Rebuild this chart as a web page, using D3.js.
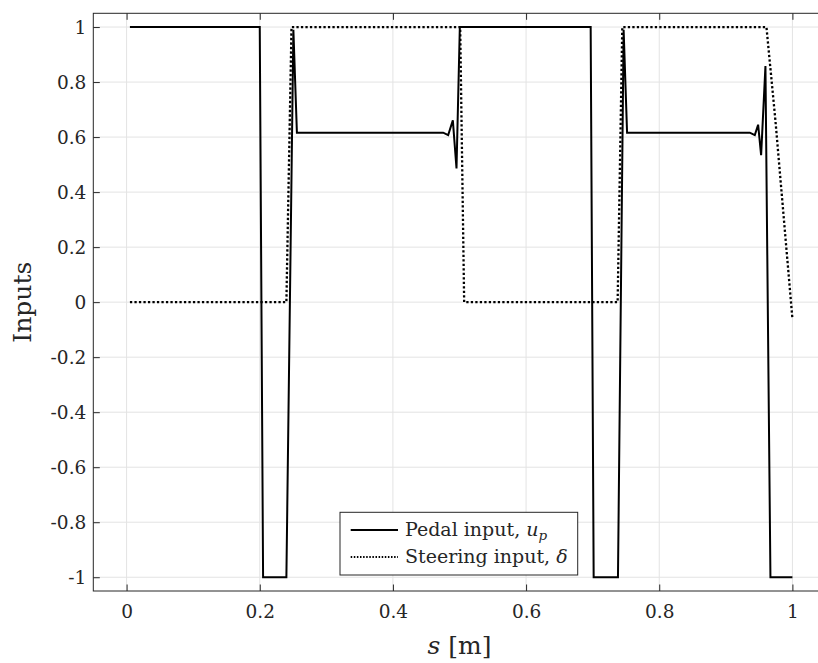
<!DOCTYPE html>
<html>
<head>
<meta charset="utf-8">
<script src="https://cdn.jsdelivr.net/npm/d3@7"></script>
<style>
  html, body { margin: 0; padding: 0; background: #fff; overflow: hidden; }
  svg { display: block; }
  text { font-family: "DejaVu Serif", "Liberation Serif", serif; fill: #262626; }
</style>
</head>
<body>
<svg id="chart" width="818" height="663"></svg>
<script>
// ---- data ----
const pedalS = [0.005, 0.200, 0.205, 0.240, 0.2505, 0.2558, 0.4755, 0.483, 0.490, 0.4955, 0.5005,
                0.697, 0.7015, 0.738, 0.7465, 0.7517, 0.936, 0.9435, 0.9485, 0.953, 0.9595, 0.967, 1.000];
const pedalU = [1, 1, -1, -1, 0.99, 0.616, 0.616, 0.607, 0.661, 0.486, 1,
                1, -1, -1, 0.99, 0.616, 0.616, 0.607, 0.645, 0.534, 0.858, -1, -1];

const steerS = [0.005, 0.240, 0.2477, 0.501, 0.507, 0.7375, 0.7445, 0.961, 0.9745, 1.000];
const steerD = [0, 0, 1, 1, 0, 0, 1, 1, 0.66, -0.06];

const xTicks = [0, 0.2, 0.4, 0.6, 0.8, 1];
const xTickLabels = ["0", "0.2", "0.4", "0.6", "0.8", "1"];
const yTicks = [-1, -0.8, -0.6, -0.4, -0.2, 0, 0.2, 0.4, 0.6, 0.8, 1];
const yTickLabels = ["-1", "-0.8", "-0.6", "-0.4", "-0.2", "0", "0.2", "0.4", "0.6", "0.8", "1"];

const xLabel = "s";
const yLabel = "Inputs";

// ---- layout ----
const svg = d3.select("#chart");
const L = 93.3, R = 825.7, T = 13.3, B = 591;
const x = d3.scaleLinear().domain([-0.05, 1.05]).range([L, R]);
const y = d3.scaleLinear().domain([-1.05, 1.05]).range([B, T]);
const axisCol = "#262626";
const gridCol = "#e3e3e3";

// grid
const grid = svg.append("g");
grid.selectAll(".gx").data(xTicks).enter().append("line")
  .attr("x1", d => x(d)).attr("x2", d => x(d)).attr("y1", T).attr("y2", B)
  .attr("stroke", gridCol).attr("stroke-width", 1);
grid.selectAll(".gy").data(yTicks).enter().append("line")
  .attr("x1", L).attr("x2", R).attr("y1", d => y(d)).attr("y2", d => y(d))
  .attr("stroke", gridCol).attr("stroke-width", 1);

// axes (inward ticks on all sides)
const tl = 6.5;
const axB = d3.axisBottom(x).tickValues(xTicks).tickSize(-tl).tickFormat((d, i) => xTickLabels[i]);
const axT = d3.axisTop(x).tickValues(xTicks).tickSize(-tl).tickFormat("");
const axL = d3.axisLeft(y).tickValues(yTicks).tickSize(-tl).tickFormat((d, i) => yTickLabels[i]);
const axR = d3.axisRight(y).tickValues(yTicks).tickSize(-tl).tickFormat("");

function styleAxis(g) {
  g.selectAll("path").attr("stroke", axisCol).attr("stroke-width", 1);
  g.selectAll("line").attr("stroke", axisCol).attr("stroke-width", 1);
  g.selectAll("text").attr("font-family", "DejaVu Serif").attr("font-size", 18.5).attr("fill", axisCol);
}
const gB = svg.append("g").attr("transform", `translate(0,${B})`).call(axB).call(styleAxis);
gB.selectAll("text").attr("dy", null).attr("y", 27);
svg.append("g").attr("transform", `translate(0,${T})`).call(axT).call(styleAxis);
const gL = svg.append("g").attr("transform", `translate(${L},0)`).call(axL).call(styleAxis);
gL.selectAll("text").attr("x", -7).attr("dy", "0.35em");
svg.append("g").attr("transform", `translate(${R},0)`).call(axR).call(styleAxis);
svg.selectAll(".domain").attr("d", null);
// box
svg.append("rect").attr("x", L).attr("y", T).attr("width", R - L).attr("height", B - T)
  .attr("fill", "none").attr("stroke", axisCol).attr("stroke-width", 1);

// lines
const line = d3.line().x(d => x(d[0])).y(d => y(d[1]));

svg.append("path").datum(steerS.map((s, i) => [s, steerD[i]]))
  .attr("d", line).attr("fill", "none").attr("stroke", "#000")
  .attr("stroke-width", 2.3).attr("stroke-dasharray", "2.3,2.2");
svg.append("path").datum(pedalS.map((s, i) => [s, pedalU[i]]))
  .attr("d", line).attr("fill", "none").attr("stroke", "#000")
  .attr("stroke-width", 2).attr("stroke-linejoin", "miter");

// axis labels
svg.append("text").attr("x", (L + R) / 2).attr("y", 654).attr("text-anchor", "middle")
  .attr("font-size", 25)
  .call(t => {
    t.append("tspan").attr("font-style", "italic").text(xLabel);
    t.append("tspan").text(" [m]");
  });
svg.append("text").attr("transform", `translate(31,${(T + B) / 2}) rotate(-90)`)
  .attr("text-anchor", "middle").attr("font-size", 25).text(yLabel);

// legend
const lg = svg.append("g");
lg.append("rect").attr("x", 340).attr("y", 512.3).attr("width", 237.7).attr("height", 62.7)
  .attr("fill", "#fff").attr("stroke", axisCol).attr("stroke-width", 1);
lg.append("line").attr("x1", 350.7).attr("x2", 398).attr("y1", 530).attr("y2", 530)
  .attr("stroke", "#000").attr("stroke-width", 2);
lg.append("line").attr("x1", 350.7).attr("x2", 398).attr("y1", 557).attr("y2", 557)
  .attr("stroke", "#000").attr("stroke-width", 2).attr("stroke-dasharray", "1.5,1.6");
lg.append("text").attr("x", 405).attr("y", 536).attr("font-size", 19)
  .call(t => {
    t.append("tspan").text("Pedal input, ");
    t.append("tspan").attr("font-style", "italic").text("u");
    t.append("tspan").attr("font-style", "italic").attr("font-size", 13.5).attr("dy", 4).text("p");
  });
lg.append("text").attr("x", 405).attr("y", 563).attr("font-size", 19)
  .call(t => {
    t.append("tspan").text("Steering input, ");
    t.append("tspan").attr("font-style", "italic").text("δ");
  });
</script>
</body>
</html>
